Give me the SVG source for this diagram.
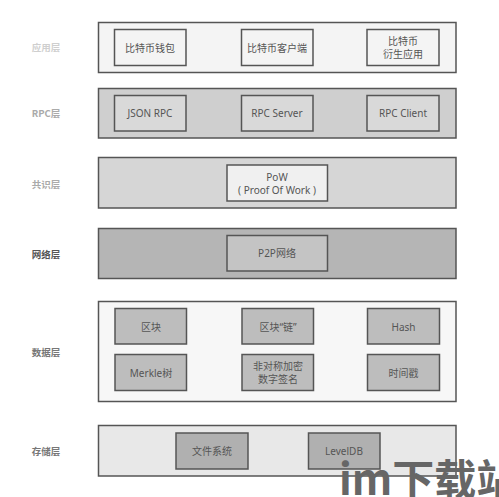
<svg xmlns="http://www.w3.org/2000/svg" width="499" height="497" viewBox="0 0 499 497">
<style>
.layer{stroke:#555;stroke-width:1.5}
.box{stroke:#555;stroke-width:1.5}
.t{font-family:"Noto Sans","Noto Sans CJK SC",sans-serif;font-size:10px;fill:#555;text-anchor:middle;dominant-baseline:central}
.lbl{font-family:"Noto Sans CJK SC",sans-serif;font-size:9.5px;text-anchor:middle;dominant-baseline:central;font-weight:bold}
</style>
<rect width="499" height="497" fill="#fff"/>
<g id="app-layer">
<text class="lbl" x="46" y="47" fill="#cfcfcf">应用层</text>
<rect class="layer" x="98.5" y="22.5" width="357.5" height="50" fill="#f4f4f4"/>
<g id="wallet"><rect class="box" x="114.5" y="29.5" width="71.5" height="36" fill="#f4f4f4"/><text class="t" x="150" y="47.5">比特币钱包</text></g>
<g id="client"><rect class="box" x="241.5" y="29.5" width="71.5" height="36" fill="#f4f4f4"/><text class="t" x="277" y="47.5">比特币客户端</text></g>
<g id="derived"><rect class="box" x="367" y="29.5" width="72" height="36" fill="#f4f4f4"/><text class="t" x="403" y="41">比特币</text><text class="t" x="403" y="54">衍生应用</text></g>
</g>
<g id="rpc-layer">
<text class="lbl" x="46" y="113" fill="#aaa">RPC层</text>
<rect class="layer" x="98.5" y="88.5" width="357.5" height="49.5" fill="#cfcfcf"/>
<g id="json-rpc"><rect class="box" x="114.5" y="95.5" width="71.5" height="35.5" fill="#d9d9d9"/><text class="t" x="150" y="113">JSON RPC</text></g>
<g id="rpc-server"><rect class="box" x="241.5" y="95.5" width="71.5" height="35.5" fill="#d9d9d9"/><text class="t" x="277" y="113">RPC Server</text></g>
<g id="rpc-client"><rect class="box" x="367" y="95.5" width="72" height="35.5" fill="#d9d9d9"/><text class="t" x="403" y="113">RPC Client</text></g>
</g>
<g id="consensus-layer">
<text class="lbl" x="46" y="184" fill="#aaa">共识层</text>
<rect class="layer" x="98.5" y="157.5" width="357.5" height="50.5" fill="#d6d6d6"/>
<g id="pow"><rect class="box" x="227" y="165" width="100.5" height="36" fill="#f0f0f0"/><text class="t" x="277" y="177">PoW</text><text class="t" x="277" y="190">( Proof Of Work )</text></g>
</g>
<g id="network-layer">
<text class="lbl" x="46" y="254" fill="#555">网络层</text>
<rect class="layer" x="98.5" y="228.5" width="357.5" height="50" fill="#b5b5b5"/>
<g id="p2p"><rect class="box" x="227" y="235.5" width="100.5" height="35.5" fill="#c4c4c4"/><text class="t" x="277" y="253">P2P网络</text></g>
</g>
<g id="data-layer">
<text class="lbl" x="46" y="352" fill="#777">数据层</text>
<rect class="layer" x="98.5" y="301.5" width="357.5" height="100" fill="#f7f7f7"/>
<g id="block"><rect class="box" x="115" y="308.5" width="71.5" height="35.5" fill="#bdbdbd"/><text class="t" x="151" y="326.5">区块</text></g>
<g id="chain"><rect class="box" x="242" y="308.5" width="71.5" height="35.5" fill="#bdbdbd"/><text class="t" x="278" y="326.5">区块“链”</text></g>
<g id="hash"><rect class="box" x="367.5" y="308.5" width="72" height="35.5" fill="#bdbdbd"/><text class="t" x="403.5" y="326.5">Hash</text></g>
<g id="merkle"><rect class="box" x="115" y="354.5" width="71.5" height="36" fill="#bdbdbd"/><text class="t" x="151" y="372.5">Merkle树</text></g>
<g id="sig"><rect class="box" x="242" y="354.5" width="71.5" height="36" fill="#bdbdbd"/><text class="t" x="278" y="366">非对称加密</text><text class="t" x="278" y="379">数字签名</text></g>
<g id="timestamp"><rect class="box" x="367.5" y="354.5" width="72" height="36" fill="#bdbdbd"/><text class="t" x="403.5" y="372.5">时间戳</text></g>
</g>
<g id="storage-layer">
<text class="lbl" x="46" y="451" fill="#777">存储层</text>
<rect class="layer" x="98.5" y="425.5" width="357.5" height="50.5" fill="#e8e8e8"/>
<g id="fs"><rect class="box" x="176" y="433" width="72" height="36" fill="#b0b0b0"/><text class="t" x="212" y="451">文件系统</text></g>
<g id="leveldb"><rect class="box" x="308.5" y="433" width="71.5" height="36" fill="#b0b0b0"/><text class="t" x="344" y="451">LevelDB</text></g>
</g>
<text x="339" y="495" font-family="Noto Sans CJK SC,sans-serif" font-size="42" font-weight="bold" fill="#666">im下载站</text>
</svg>
